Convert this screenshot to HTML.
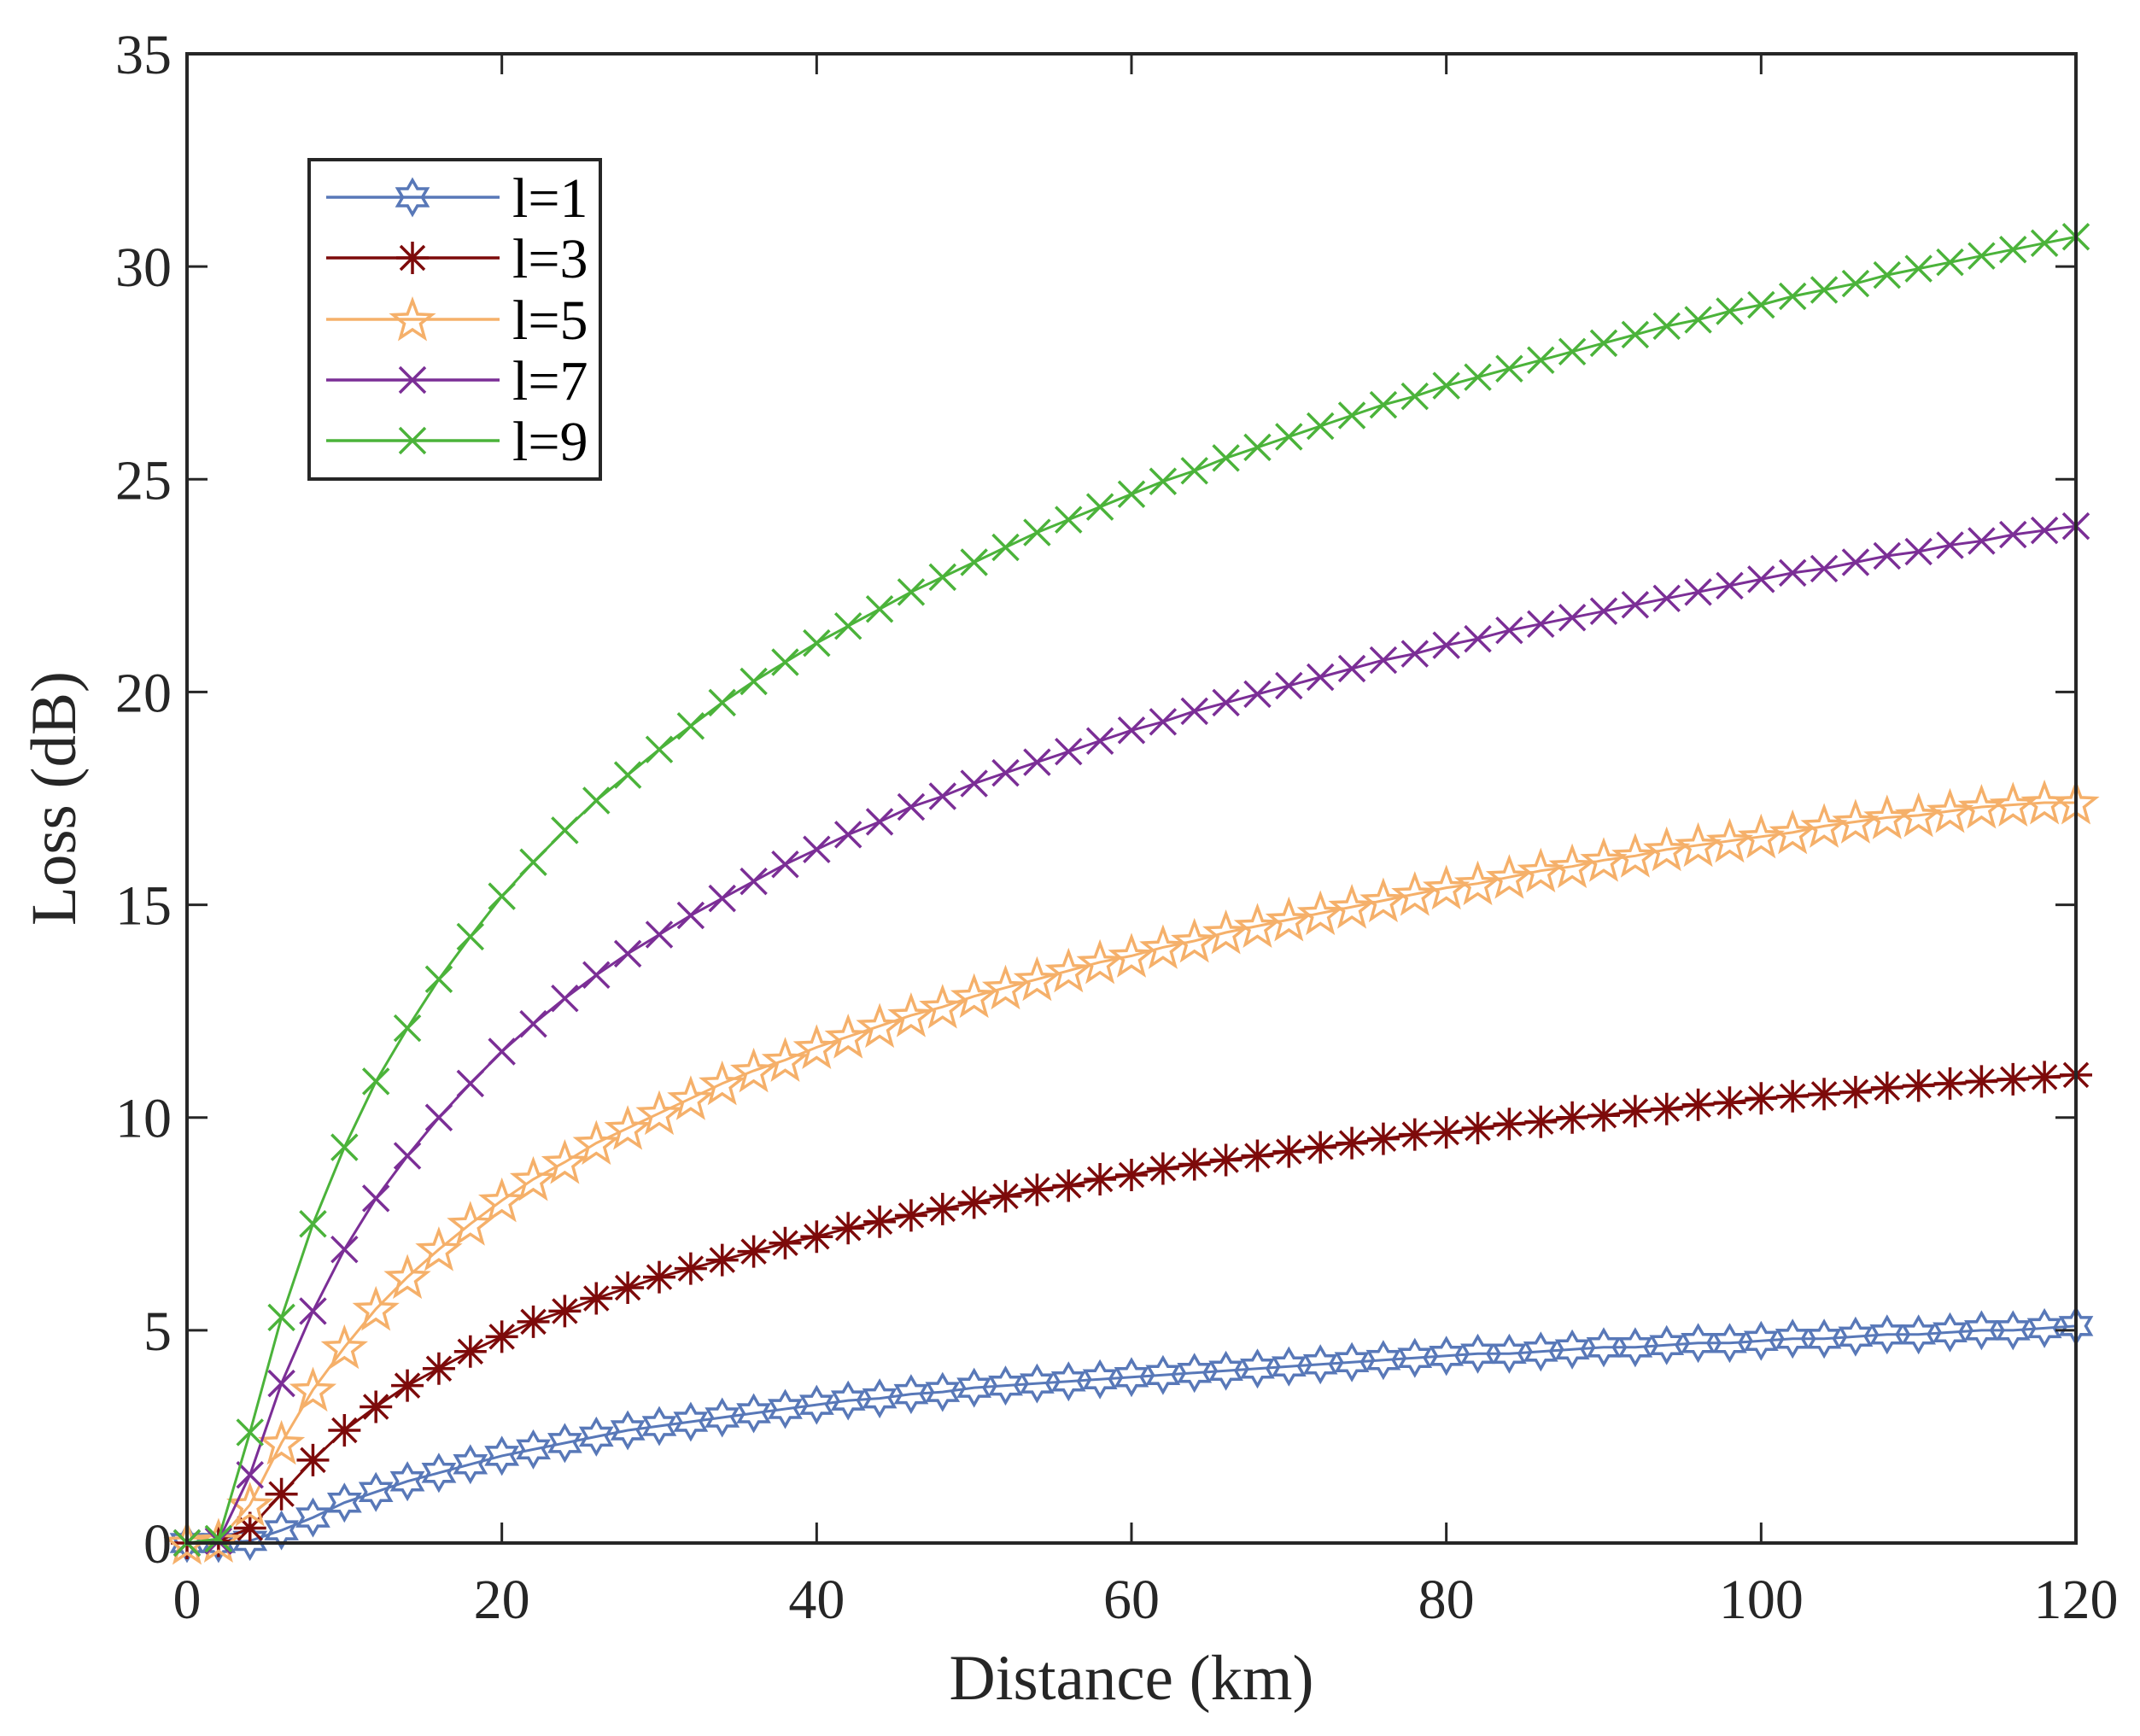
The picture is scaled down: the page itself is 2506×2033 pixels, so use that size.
<!DOCTYPE html>
<html><head><meta charset="utf-8"><style>
html,body{margin:0;padding:0;background:#fff;}
svg{display:block;font-family:"Liberation Serif",serif;}
</style></head><body>
<svg id="chart" width="2506" height="2033" viewBox="0 0 2506 2033" xmlns="http://www.w3.org/2000/svg">
<rect width="2506" height="2033" fill="#fff"/>
<g id="series"></g>
<g id="axes"></g>
<g id="legend"></g>
</svg>
<script>
const distances = [];
for (let d = 0; d <= 120; d += 2) distances.push(d);
const lossL1 = [0,0,0.05,0.3,0.6,0.95,1.2,1.45,1.65,1.85,2.05,2.2,2.35,2.5,2.65,2.75,2.85,2.95,3.05,3.15,3.25,3.35,3.4,3.5,3.55,3.65,3.7,3.75,3.8,3.85,3.9,3.95,4.0,4.05,4.1,4.15,4.2,4.25,4.3,4.35,4.4,4.45,4.45,4.5,4.55,4.6,4.6,4.65,4.7,4.7,4.75,4.8,4.8,4.85,4.9,4.9,4.95,5.0,5.0,5.05,5.1];
const lossL3 = [0,0.05,0.35,1.15,1.95,2.65,3.2,3.7,4.1,4.5,4.85,5.2,5.45,5.75,6.0,6.25,6.45,6.65,6.85,7.05,7.2,7.4,7.55,7.7,7.85,8.0,8.15,8.3,8.4,8.55,8.65,8.8,8.9,9.0,9.1,9.2,9.3,9.4,9.5,9.6,9.65,9.75,9.85,9.9,10.0,10.05,10.15,10.2,10.3,10.35,10.45,10.5,10.55,10.6,10.7,10.75,10.8,10.85,10.9,10.95,11.0];
const lossL5 = [0,0.05,0.9,2.35,3.6,4.6,5.5,6.25,6.9,7.5,8.05,8.55,8.95,9.4,9.75,10.1,10.45,10.8,11.1,11.35,11.65,11.9,12.15,12.4,12.6,12.85,13.05,13.25,13.45,13.65,13.8,14.0,14.15,14.35,14.5,14.65,14.8,14.95,15.1,15.25,15.4,15.5,15.65,15.8,15.9,16.05,16.15,16.3,16.4,16.5,16.6,16.7,16.85,16.95,17.05,17.1,17.2,17.3,17.35,17.4,17.4];
const lossL7 = [0,0.05,1.6,3.75,5.45,6.9,8.1,9.1,10.0,10.8,11.55,12.2,12.8,13.35,13.85,14.3,14.75,15.15,15.55,15.95,16.3,16.65,16.95,17.3,17.55,17.85,18.1,18.35,18.6,18.85,19.1,19.3,19.55,19.75,19.95,20.15,20.35,20.55,20.75,20.9,21.1,21.25,21.45,21.6,21.75,21.9,22.05,22.2,22.35,22.5,22.65,22.8,22.9,23.05,23.2,23.3,23.45,23.55,23.7,23.8,23.9];
const lossL9 = [0,0.1,2.6,5.3,7.5,9.3,10.85,12.1,13.25,14.25,15.2,16.0,16.75,17.45,18.05,18.65,19.2,19.75,20.25,20.7,21.15,21.55,21.95,22.35,22.7,23.05,23.4,23.75,24.05,24.35,24.65,24.95,25.2,25.5,25.75,26.0,26.25,26.5,26.75,26.95,27.2,27.4,27.6,27.8,28.0,28.2,28.4,28.6,28.75,28.95,29.1,29.3,29.45,29.6,29.8,29.95,30.1,30.25,30.4,30.55,30.7];
const xTicks = [0,20,40,60,80,100,120];
const yTicks = [0,5,10,15,20,25,30,35];
const seriesLabels = ["l=1","l=3","l=5","l=7","l=9"];

const NS = "http://www.w3.org/2000/svg";
const L = 219, R = 2431, T = 63, B = 1807;
const xs = v => L + (v - 0) / 120 * (R - L);
const ys = v => B - v / 35 * (B - T);
function el(tag, attrs, parent) {
  const e = document.createElementNS(NS, tag);
  for (const k in attrs) e.setAttribute(k, attrs[k]);
  parent.appendChild(e);
  return e;
}
function starPath(cx, cy, n, ro, ri) {
  let d = "";
  for (let i = 0; i < 2 * n; i++) {
    const r = i % 2 === 0 ? ro : ri;
    const a = -Math.PI / 2 + i * Math.PI / n;
    d += (i ? "L" : "M") + (cx + r * Math.cos(a)).toFixed(1) + " " + (cy + r * Math.sin(a)).toFixed(1);
  }
  return d + "Z";
}
function marker(type, cx, cy, color, parent) {
  const s = 19;
  if (type === "hex") {
    return el("path", {d: starPath(cx, cy, 6, 20, 11.5), fill: "none", stroke: color, "stroke-width": 3.5}, parent);
  } else if (type === "pent") {
    return el("path", {d: starPath(cx, cy + 2, 5, 24, 10), fill: "none", stroke: color, "stroke-width": 3.5}, parent);
  } else if (type === "ast") {
    const p = `M${cx} ${cy - s}L${cx} ${cy + s}M${cx - s} ${cy}L${cx + s} ${cy}M${cx - 14} ${cy - 14}L${cx + 14} ${cy + 14}M${cx - 14} ${cy + 14}L${cx + 14} ${cy - 14}`;
    return el("path", {d: p, fill: "none", stroke: color, "stroke-width": 3.5}, parent);
  } else {
    const p = `M${cx - 15} ${cy - 15}L${cx + 15} ${cy + 15}M${cx - 15} ${cy + 15}L${cx + 15} ${cy - 15}`;
    return el("path", {d: p, fill: "none", stroke: color, "stroke-width": 3.5}, parent);
  }
}
const seriesDefs = [
  {vals: lossL1, color: "#5878b8", m: "hex", name: "series-l1"},
  {vals: lossL3, color: "#7d0a0a", m: "ast", name: "series-l3"},
  {vals: lossL5, color: "#f5b06a", m: "pent", name: "series-l5"},
  {vals: lossL7, color: "#7b2e96", m: "x", name: "series-l7"},
  {vals: lossL9, color: "#4bb33a", m: "x", name: "series-l9"}
];
const sg = document.getElementById("series");
seriesDefs.forEach(sd => {
  const g = el("g", {}, sg);
  
  
  const pts = distances.map((d, i) => xs(d).toFixed(1) + "," + ys(sd.vals[i]).toFixed(1)).join(" ");
  const line = el("polyline", {points: pts, fill: "none", stroke: sd.color, "stroke-width": 3}, g);
  
  
  distances.forEach((d, i) => {
    const mk = marker(sd.m, xs(d), ys(sd.vals[i]), sd.color, g);
    
    
  });
});
const ag = document.getElementById("axes");
const frame = el("rect", {x: L, y: T, width: R - L, height: B - T, fill: "none", stroke: "#262626", "stroke-width": 4}, ag);


xTicks.forEach(v => {
  const x = xs(v);
  el("path", {d: `M${x} ${B}V${B - 24}M${x} ${T}V${T + 24}`, stroke: "#262626", "stroke-width": 3}, ag);
  const t = el("text", {x: x, y: B + 88, "text-anchor": "middle", "font-size": 66, fill: "#262626"}, ag);
  t.textContent = v;
  
  
});
yTicks.forEach(v => {
  const y = ys(v);
  el("path", {d: `M${L} ${y}H${L + 24}M${R} ${y}H${R - 24}`, stroke: "#262626", "stroke-width": 3}, ag);
  const t = el("text", {x: L - 18, y: y + 23, "text-anchor": "end", "font-size": 66, fill: "#262626"}, ag);
  t.textContent = v;
  
  
});
const xt = el("text", {x: (L + R) / 2, y: 1990, "text-anchor": "middle", "font-size": 75, fill: "#262626"}, ag);
xt.textContent = "Distance (km)";


const yt = el("text", {x: 0, y: 0, "text-anchor": "middle", "font-size": 75, fill: "#262626", transform: `translate(88 ${(T + B) / 2}) rotate(-90)`}, ag);
yt.textContent = "Loss (dB)";



const lg = document.getElementById("legend");


el("rect", {x: 362, y: 187, width: 341, height: 374, fill: "#fff", stroke: "#262626", "stroke-width": 4}, lg);
const ly = [231, 302, 374, 445, 516];
seriesDefs.forEach((sd, i) => {
  const g = el("g", {}, lg);
  
  
  el("line", {x1: 382, x2: 585, y1: ly[i], y2: ly[i], stroke: sd.color, "stroke-width": 3.5}, g);
  marker(sd.m, 483, ly[i], sd.color, g);
  const t = el("text", {x: 600, y: ly[i] + 23, "font-size": 66, fill: "#000"}, g);
  t.textContent = seriesLabels[i];
});
</script>
</body></html>
